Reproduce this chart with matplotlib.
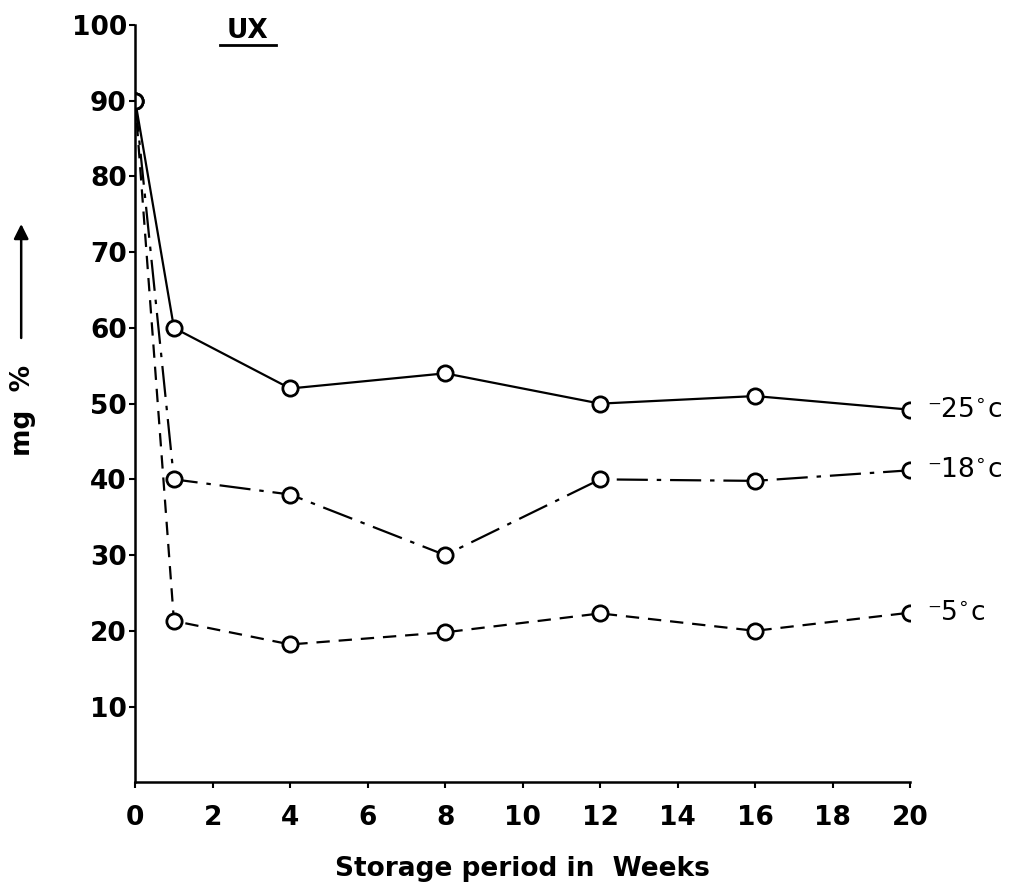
import matplotlib.pyplot as plt

# storage period (weeks) and vitamin content (mg %) at three temperatures
weeks = [0, 1, 4, 8, 12, 16, 20]
minus25 = [90, 60, 52, 54, 50, 51, 49.2]
minus18 = [90, 40, 38, 30, 40, 39.8, 41.2]
minus5 = [90, 21.3, 18.2, 19.8, 22.3, 20.0, 22.4]
labels = ['\u207b25$^{\\circ}$c', '\u207b18$^{\\circ}$c', '\u207b5$^{\\circ}$c']

xticks = list(range(0, 21, 2))
yticks = list(range(10, 101, 10))

plt.rcParams['font.family'] = ['DejaVu Sans']

fig = plt.figure(figsize=(10.09, 8.92), dpi=100)
ax = fig.add_axes([0.134, 0.123, 0.768, 0.849])

style = dict(marker='o', markersize=11, markerfacecolor='white',
             markeredgecolor='black', markeredgewidth=2, color='black', linewidth=1.6)
ax.plot(weeks, minus25, linestyle='-', **style)
ax.plot(weeks, minus18, linestyle=(0, (14, 4, 2, 4)), **style)
ax.plot(weeks, minus5, linestyle=(0, (6, 4)), **style)

for series, lab in zip([minus25, minus18, minus5], labels):
    ax.annotate(lab, (weeks[-1], series[-1]), xytext=(12, 0), textcoords='offset points',
                fontsize=19, va='center', ha='left')

ax.set_xlim(0, 20)
ax.set_ylim(0, 100)
ax.set_xticks(xticks)
ax.set_yticks(yticks)
ax.set_xticklabels([str(t) for t in xticks], fontsize=19, fontweight='bold')
ax.set_yticklabels([str(t) for t in yticks], fontsize=19, fontweight='bold')
ax.tick_params(axis='y', direction='out', length=4, width=1.5, pad=2)
ax.tick_params(axis='x', direction='out', length=4, width=1.5, pad=12)

for side in ['top', 'right']:
    ax.spines[side].set_visible(False)
for side in ['left', 'bottom']:
    ax.spines[side].set_linewidth(1.8)

ax.set_xlabel('Storage period in  Weeks', fontsize=19, fontweight='bold', labelpad=18)

# y label with an upward arrow above it
fig.text(0.023, 0.54, 'mg  %', rotation=90, fontsize=19, fontweight='bold',
         ha='center', va='center')
fig.add_artist(plt.matplotlib.patches.FancyArrowPatch(
    (0.021, 0.618), (0.021, 0.752), transform=fig.transFigure,
    arrowstyle='-|>', mutation_scale=22, linewidth=1.8, color='black'))

# underlined panel title
fig.text(0.245, 0.965, 'UX', fontsize=19, fontweight='bold', ha='center', va='center')
fig.add_artist(plt.Line2D([0.218, 0.274], [0.95, 0.95], transform=fig.transFigure,
                          color='black', linewidth=2))

fig.savefig('out.png', dpi=100)
